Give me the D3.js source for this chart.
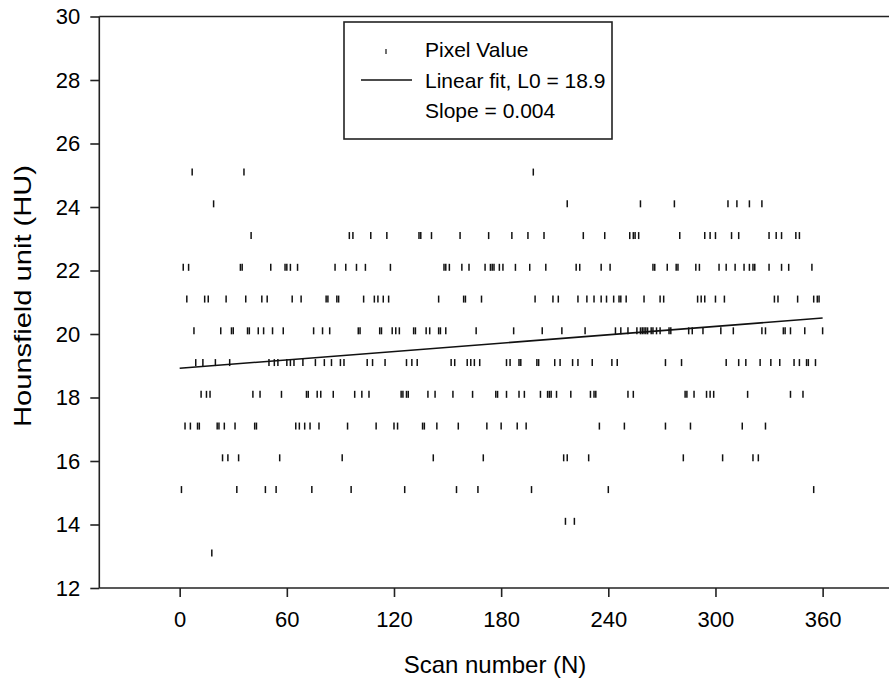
<!DOCTYPE html>
<html>
<head>
<meta charset="utf-8">
<script src="https://cdn.jsdelivr.net/npm/d3@7/dist/d3.min.js"></script>
<style>
  body { margin: 0; background: #fff; }
  svg { display: block; }
  text { font-family: "Liberation Sans", Arial, sans-serif; fill: #000; }
</style>
</head>
<body>
<div id="wrapper"></div>
<script>
// scan numbers, one list per pixel value level (HU)
const scans_25 = [7, 36, 198]
const scans_24 = [19, 217, 258, 277, 307, 312, 319, 326]
const scans_23 = [40, 95, 97, 107, 116, 134, 135, 141, 157, 173, 186, 195, 204, 226, 238, 252, 254, 255, 257, 280, 294, 297, 300, 309, 313, 330, 334, 337, 345, 347]
const scans_22 = [2, 5, 34, 35, 51, 59, 60, 62, 66, 87, 93, 99, 104, 118, 148, 149, 151, 158, 162, 171, 174, 175, 176, 179, 181, 188, 196, 205, 222, 224, 236, 241, 265, 266, 273, 278, 279, 289, 291, 302, 306, 311, 316, 319, 321, 322, 330, 337, 341, 354]
const scans_21 = [4, 14, 16, 26, 37, 46, 49, 63, 68, 82, 83, 88, 89, 103, 109, 111, 114, 117, 145, 159, 160, 169, 199, 209, 212, 223, 228, 232, 236, 239, 243, 246, 247, 250, 260, 269, 271, 290, 292, 294, 300, 305, 333, 335, 346, 355, 357, 358]
const scans_20 = [8, 23, 29, 30, 38, 39, 44, 47, 52, 58, 75, 80, 84, 100, 101, 112, 113, 119, 121, 123, 131, 132, 138, 140, 145, 146, 149, 166, 187, 203, 214, 227, 244, 247, 251, 256, 258, 259, 260, 261, 262, 264, 265, 267, 269, 274, 275, 285, 287, 293, 303, 310, 326, 328, 338, 339, 342, 350, 360]
const scans_19 = [9, 13, 20, 28, 50, 53, 55, 60, 62, 64, 69, 76, 81, 85, 90, 92, 105, 108, 115, 127, 130, 133, 152, 154, 161, 163, 165, 168, 183, 185, 190, 191, 200, 201, 210, 213, 220, 223, 231, 242, 245, 272, 281, 306, 313, 317, 325, 331, 336, 344, 347, 351, 352, 356]
const scans_18 = [12, 15, 17, 41, 45, 57, 71, 72, 77, 79, 86, 98, 102, 106, 124, 125, 127, 128, 139, 143, 153, 164, 177, 178, 183, 190, 193, 202, 206, 207, 208, 211, 219, 230, 232, 233, 251, 254, 283, 284, 288, 295, 297, 299, 318, 342, 349]
const scans_17 = [3, 6, 10, 11, 21, 22, 25, 31, 42, 43, 65, 67, 70, 73, 78, 94, 110, 120, 122, 136, 137, 144, 156, 172, 180, 189, 194, 235, 249, 272, 286, 315, 328]
const scans_16 = [24, 27, 33, 56, 91, 142, 170, 215, 217, 229, 282, 304, 321, 324]
const scans_15 = [1, 32, 48, 54, 74, 96, 126, 155, 167, 197, 240, 355]
const scans_14 = [216, 221]
const scans_13 = [18]

const huLevels = [25.1, 24.1, 23.1, 22.1, 21.1, 20.1, 19.1, 18.1, 17.1, 16.1, 15.1, 14.1, 13.1]
const scanLists = [scans_25, scans_24, scans_23, scans_22, scans_21, scans_20, scans_19, scans_18, scans_17, scans_16, scans_15, scans_14, scans_13]

// linear fit shown in the figure
const fitL0 = 18.92
const fitSlope = 0.0044
const fitRange = [0, 360]

const xTicks = [0, 60, 120, 180, 240, 300, 360]
const yTicks = [12, 14, 16, 18, 20, 22, 24, 26, 28, 30]
const legendLabels = ["Pixel Value", "Linear fit, L0 = 18.9", "Slope = 0.004"]

// table of points
const points = []
huLevels.forEach((hu, i) => {
  scanLists[i].forEach(n => points.push({ scan: n, hu: hu }))
})

const dim = {
  width: 889,
  height: 687,
  margin: { top: 16.5, right: -14, bottom: 99, left: 99.3 },
}
dim.bound_width = dim.width - dim.margin.left - dim.margin.right
dim.bound_height = dim.height - dim.margin.top - dim.margin.bottom

const wrapper = d3.select("#wrapper")
  .append("svg")
  .attr("width", dim.width)
  .attr("height", dim.height)

const chart = wrapper.append("g")
  .attr("transform", `translate(${dim.margin.left}, ${dim.margin.top})`)

const x_scale = d3.scaleLinear()
  .domain([-45, 405])
  .range([0, dim.bound_width])
const y_scale = d3.scaleLinear()
  .domain([12, 30])
  .range([dim.bound_height, 0])

const axisColor = "#222"

// axes
const xAxis = chart.append("g")
  .attr("transform", `translate(0, ${dim.bound_height})`)
  .call(d3.axisBottom(x_scale).tickValues(xTicks).tickSize(9).tickPadding(14).tickSizeOuter(0))
const yAxis = chart.append("g")
  .call(d3.axisLeft(y_scale).tickValues(yTicks).tickSize(9).tickPadding(10).tickSizeOuter(0))

;[xAxis, yAxis].forEach(a => {
  a.select(".domain").attr("stroke", axisColor).attr("stroke-width", 1.6)
  a.selectAll(".tick line").attr("stroke", axisColor).attr("stroke-width", 1.6)
  a.selectAll(".tick text")
    .attr("fill", "#000")
    .style("font-size", "22px")
    .style("font-family", '"Liberation Sans", Arial, sans-serif')
})
xAxis.select(".domain").attr("d", `M0,0H${dim.bound_width}`)
yAxis.select(".domain").attr("d", `M0,0V${dim.bound_height}`)

// top frame line
chart.append("line")
  .attr("x1", 0).attr("x2", dim.bound_width)
  .attr("y1", 0).attr("y2", 0)
  .attr("stroke", axisColor).attr("stroke-width", 1.6)

// data marks: short vertical ticks
chart.append("g")
  .selectAll("line")
  .data(points)
  .join("line")
  .attr("x1", d => x_scale(d.scan))
  .attr("x2", d => x_scale(d.scan))
  .attr("y1", d => y_scale(d.hu) - 3.5)
  .attr("y2", d => y_scale(d.hu) + 3.5)
  .attr("stroke", "#111")
  .attr("stroke-width", 1.5)

// fit line
chart.append("line")
  .attr("x1", x_scale(fitRange[0]))
  .attr("x2", x_scale(fitRange[1]))
  .attr("y1", y_scale(fitL0 + fitSlope * fitRange[0]))
  .attr("y2", y_scale(fitL0 + fitSlope * fitRange[1]))
  .attr("stroke", "#111")
  .attr("stroke-width", 1.6)

// axis titles
wrapper.append("text")
  .attr("x", 495)
  .attr("y", 673)
  .attr("text-anchor", "middle")
  .style("font-size", "24px")
  .text("Scan number (N)")
wrapper.append("text")
  .attr("transform", `translate(31, 296) rotate(-90)`)
  .attr("text-anchor", "middle")
  .attr("textLength", 262)
  .attr("lengthAdjust", "spacingAndGlyphs")
  .style("font-size", "24px")
  .text("Hounsfield unit (HU)")

// legend
const legend = wrapper.append("g")
legend.append("rect")
  .attr("x", 344).attr("y", 22)
  .attr("width", 268).attr("height", 117)
  .attr("fill", "#fff")
  .attr("stroke", axisColor).attr("stroke-width", 1.6)
legend.append("line")
  .attr("x1", 386).attr("x2", 386)
  .attr("y1", 49).attr("y2", 54)
  .attr("stroke", "#111").attr("stroke-width", 1.2)
legend.append("line")
  .attr("x1", 361).attr("x2", 412)
  .attr("y1", 80).attr("y2", 80)
  .attr("stroke", "#111").attr("stroke-width", 1.6)
legend.selectAll("text")
  .data(legendLabels)
  .join("text")
  .attr("x", 425)
  .attr("y", (d, i) => 57 + i * 30.5)
  .style("font-size", "21px")
  .text(d => d)
</script>
</body>
</html>
